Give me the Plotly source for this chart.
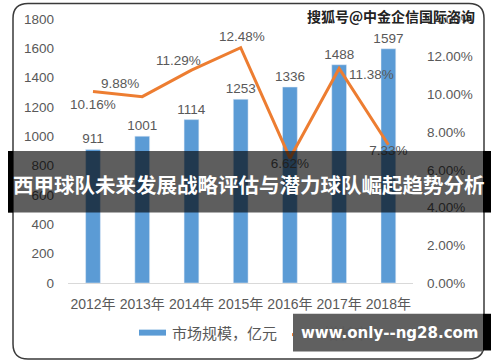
import plotly.graph_objects as go

years = ["2012年", "2013年", "2014年", "2015年", "2016年", "2017年", "2018年"]
market = [911, 1001, 1114, 1253, 1336, 1488, 1597]
growth = [0.1016, 0.0988, 0.1129, 0.1248, 0.0662, 0.1138, 0.0733]
growth_labels = ["10.16%", "9.88%", "11.29%", "12.48%", "6.62%", "11.38%", "7.33%"]

title = "西甲球队未来发展战略评估与潜力球队崛起趋势分析"
watermark = "搜狐号@中金企信国际咨询"
site = "www.only--ng28.com"

W, H = 500, 362
L, R, T, B = 68, 413, 17, 283
def X(px):
    return (px - L) / (R - L)
def Y(py):
    return (B - py) / (B - T)

GRAY = "#595959"
FONT = "Liberation Sans, Noto Sans CJK SC, sans-serif"

# label placement: pixel offsets from each point (dx, dy up); None -> trace text below
label_shift = [(0, -13), (-22, 13), (-13, 10), (1, 11), None, (32, -6), None]

fig = go.Figure()
fig.add_trace(go.Bar(
    x=years, y=market, name="市场规模，亿元", marker_color="#5B9BD5",
    width=0.3, text=[str(v) for v in market], textposition="outside",
    constraintext="none",
    textfont=dict(color=GRAY, size=13.5, family=FONT), cliponaxis=False,
))
fig.add_trace(go.Scatter(
    x=years, y=growth, name="增长率", yaxis="y2", mode="lines+text",
    line=dict(color="#ED7D31", width=3),
    text=[lab if s is None else "" for lab, s in zip(growth_labels, label_shift)],
    textposition="bottom center", textfont=dict(color=GRAY, size=13.5, family=FONT),
    cliponaxis=False,
))

shapes = []
# rounded outer border
x0, x1, y0, y1, r = 13, 484, 1.5, 359.5, 15
pts = [
    ("M", X(x0 + r), Y(y0)), ("L", X(x1 - r), Y(y0)),
    ("Q", X(x1), Y(y0), X(x1), Y(y0 + r)), ("L", X(x1), Y(y1 - r)),
    ("Q", X(x1), Y(y1), X(x1 - r), Y(y1)), ("L", X(x0 + r), Y(y1)),
    ("Q", X(x0), Y(y1), X(x0), Y(y1 - r)), ("L", X(x0), Y(y0 + r)),
    ("Q", X(x0), Y(y0), X(x0 + r), Y(y0)),
]
path = ""
for p in pts:
    path += p[0] + " " + " ".join(f"{v:.5f}" for v in p[1:]) + " "
path += "Z"
shapes.append(dict(type="path", xref="paper", yref="paper", path=path,
                   line=dict(color="#3a3a3a", width=1.5), layer="below"))

# legend (manual)
shapes.append(dict(type="rect", xref="paper", yref="paper",
                   x0=X(139), x1=X(166), y0=Y(336), y1=Y(330),
                   fillcolor="#5B9BD5", line_width=0))
shapes.append(dict(type="line", xref="paper", yref="paper",
                   x0=X(292), x1=X(318), y0=Y(335), y1=Y(335),
                   line=dict(color="#ED7D31", width=3)))

# banner overlay
shapes.append(dict(type="rect", xref="paper", yref="paper",
                   x0=X(8), x1=X(483), y0=Y(212), y1=Y(150),
                   fillcolor="rgba(0,0,0,0.63)", line_width=0, layer="above"))
shapes.append(dict(type="rect", xref="paper", yref="paper",
                   x0=X(8), x1=X(13), y0=Y(212), y1=Y(150),
                   fillcolor="#000000", line_width=0, layer="above"))
shapes.append(dict(type="rect", xref="paper", yref="paper",
                   x0=X(483), x1=X(491), y0=Y(212), y1=Y(150),
                   fillcolor="#000000", line_width=0, layer="above"))
# site box
shapes.append(dict(type="rect", xref="paper", yref="paper",
                   x0=X(293), x1=X(483), y0=Y(352), y1=Y(314),
                   fillcolor="#606060", line_width=0, layer="above"))
shapes.append(dict(type="rect", xref="paper", yref="paper",
                   x0=X(483), x1=X(491), y0=Y(351), y1=Y(314),
                   fillcolor="#000000", line_width=0, layer="above"))

annotations = [
    dict(text="市场规模，亿元", x=X(170), y=Y(334), xref="paper", yref="paper",
         xanchor="left", yanchor="middle", showarrow=False,
         font=dict(color=GRAY, size=15, family=FONT)),
    dict(text="增长率", x=X(322), y=Y(334), xref="paper", yref="paper",
         xanchor="left", yanchor="middle", showarrow=False,
         font=dict(color=GRAY, size=15, family=FONT)),
]
for yr, g, lab, s in zip(years, growth, growth_labels, label_shift):
    if s is None:
        continue
    annotations.append(dict(text=lab, x=yr, y=g, xref="x", yref="y2",
                            xshift=s[0], yshift=s[1], showarrow=False,
                            xanchor="center", yanchor="middle",
                            font=dict(color=GRAY, size=13.5, family=FONT)))

fig.update_layout(
    width=W, height=H,
    margin=dict(l=L, r=W - R, t=T, b=H - B, pad=0),
    paper_bgcolor="white", plot_bgcolor="white",
    showlegend=False,
    font=dict(family=FONT, color=GRAY),
    xaxis=dict(showgrid=False, showline=True, linecolor="#d9d9d9", linewidth=1,
               ticks="", tickfont=dict(size=14, color=GRAY), ticklabelstandoff=8),
    yaxis=dict(range=[0, 1800], dtick=200, showgrid=False, zeroline=False,
               showline=False, ticks="", tickfont=dict(size=13.5, color=GRAY),
               ticklabelstandoff=13),
    yaxis2=dict(range=[0, 0.14], dtick=0.02, tickformat=".2%", overlaying="y",
                side="right", showgrid=False, zeroline=False, showline=False,
                ticks="", tickfont=dict(size=13.5, color=GRAY), ticklabelstandoff=13),
    shapes=shapes,
    annotations=annotations,
)

# overlay texts (drawn above everything)
fig.add_annotation(text=title, x=X(249), y=Y(183), xref="paper", yref="paper",
                   xanchor="center", yanchor="middle", showarrow=False,
                   font=dict(color="white", size=20.5, family="Noto Sans CJK SC", weight="bold"))
fig.add_annotation(text=watermark, x=X(391), y=Y(14), xref="paper", yref="paper",
                   xanchor="center", yanchor="middle", showarrow=False,
                   font=dict(color="#222222", size=14, family="Noto Sans CJK SC", weight="bold"))
fig.add_annotation(text=site, x=X(389), y=Y(333), xref="paper", yref="paper",
                   xanchor="center", yanchor="middle", showarrow=False,
                   font=dict(color="white", size=15, family="DejaVu Sans", weight="bold"))

fig.write_html("out.html", config={"displayModeBar": False},
               post_script="document.body.style.margin='0';")
